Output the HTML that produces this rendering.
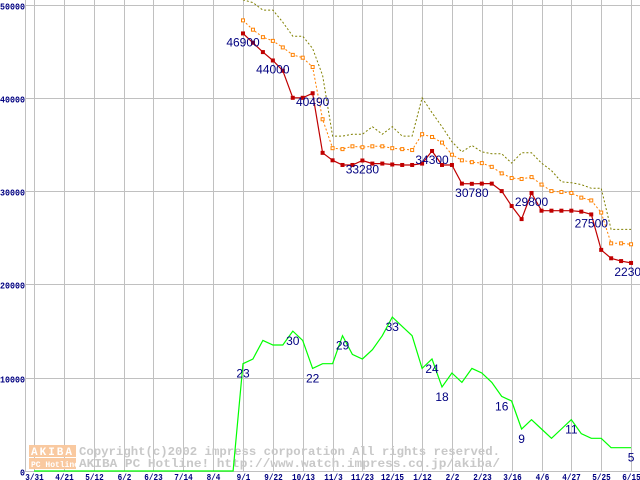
<!DOCTYPE html>
<html><head><meta charset="utf-8">
<style>
html,body{margin:0;padding:0;background:#fff;}
svg{display:block;}
text{font-family:"Liberation Mono","DejaVu Sans Mono",monospace;}
.lbl{font-family:"Liberation Sans",sans-serif;font-size:12px;fill:#000080;}
.ax{font-size:9px;font-weight:bold;fill:#000080;}
.wm{font-size:12px;font-weight:bold;fill:#c8c8c8;}
</style></head>
<body>
<svg id="chart" width="640" height="480" viewBox="0 0 640 480" xmlns="http://www.w3.org/2000/svg">
<defs><clipPath id="plot"><rect x="25" y="0" width="615" height="472"/></clipPath></defs>
<g id="grid"></g>
<g id="watermark">
  <rect x="29" y="445" width="47" height="12" fill="#f9c9a0"/>
  <rect x="29" y="458" width="47" height="11" fill="#f9c9a0"/>
  <text x="31" y="455" font-size="11" font-weight="bold" fill="#fff" letter-spacing="2">AKIBA</text>
  <text x="31" y="467" font-size="8" font-weight="bold" fill="#fff">PC Hotline!</text>
  <text class="wm" x="79" y="455" textLength="421" lengthAdjust="spacingAndGlyphs">Copyright(c)2002 impress corporation All rights reserved.</text>
  <text class="wm" x="79" y="467" textLength="421" lengthAdjust="spacingAndGlyphs">AKIBA PC Hotline!  http://www.watch.impress.co.jp/akiba/</text>
</g>
<g id="series" clip-path="url(#plot)"></g>
<g id="labels"></g>
<g id="axes"></g>
</svg>
<script>
const yTicks = [0,10000,20000,30000,40000,50000];
const xTickLabels = ["3/31","4/21","5/12","6/2","6/23","7/14","8/4","9/1","9/22","10/13","11/3","11/23","12/15","1/12","2/2","2/23","3/16","4/6","4/27","5/25","6/15"];
const xTickWeeks = [-21,-18,-15,-12,-9,-6,-3,0,3,6,9,12,15,18,21,24,27,30,33,36,39];
const redValues = [46900,45900,44900,44000,42900,40000,40000,40490,34100,33300,32800,32800,33280,32950,32950,32850,32800,32800,32950,34300,32800,32800,30800,30780,30800,30800,30000,28400,27000,29800,27900,27900,27900,27900,27800,27500,23700,22800,22500,22300];
const redLabelIdx = [0,3,7,12,19,23,29,35,39];
const orangeValues = [48300,47300,46500,46100,45400,44600,44300,43300,37700,34600,34500,34800,34700,34800,34800,34600,34500,34400,36100,35800,35200,33900,33300,33100,33000,32600,31900,31400,31300,31500,30700,30000,29900,29800,29300,29000,27700,24400,24400,24300];
const oliveValues = [50500,50200,49400,49400,48100,46600,46600,45300,42400,35900,35900,36100,36100,36900,36100,36900,35900,35900,40000,38400,36900,35300,34200,34900,34200,34000,34000,33000,34100,34100,33000,32200,31000,30900,30700,30300,30300,25900,25900,25900];
const greenZeroWeeks = 21;
const greenCounts = [23,24,28,27,27,30,28,22,23,23,29,25,24,26,29,33,31,29,22,24,18,21,19,22,21,19,16,15,9,11,9,7,9,11,8,7,7,5,5,5];
const greenLabelIdx = [0,5,7,10,15,19,20,26,28,33,39];

const NS = "http://www.w3.org/2000/svg";
const X0 = 243, WEEK = 9.95, Y0 = 471, PER = 466.5/50000, COUNT_SCALE = 500;
function xs(i){ return X0 + i*WEEK; }
function ys(v){ return Y0 - v*PER; }
function mk(tag, attrs, parent){
  const e = document.createElementNS(NS, tag);
  for (const k in attrs) e.setAttribute(k, attrs[k]);
  parent.appendChild(e); return e;
}
const grid = document.getElementById('grid');
const axes = document.getElementById('axes');
const series = document.getElementById('series');
const labels = document.getElementById('labels');

yTicks.forEach(v=>{
  const y = Math.round(ys(v))+0.5;
  const l = mk('line',{x1:25,x2:640,y1:y,y2:y,stroke:'#c0c0c0','stroke-width':1},grid);
  
  
  const s = String(v);
  const w = s.length*5;
  const t = mk('text',{x:25-w,y:Math.max(y+4,8),class:'ax',textLength:w,lengthAdjust:'spacingAndGlyphs'},axes);
  t.textContent = s;
  
  
});
const yl = mk('line',{x1:25.5,x2:25.5,y1:0,y2:472,stroke:'#c0c0c0'},grid);


xTickWeeks.forEach((w,k)=>{
  const x = Math.round(xs(w))+0.5;
  const l = mk('line',{x1:x,x2:x,y1:0,y2:472,stroke:'#c0c0c0'},grid);
  
  
  const s = xTickLabels[k];
  const tw = s.length*4.6;
  const t = mk('text',{x:x-tw/2,y:480,class:'ax',textLength:tw,lengthAdjust:'spacingAndGlyphs'},axes);
  t.textContent = s;
  
  
});

function line(vals, offset, style, name){
  const pts = vals.map((v,i)=>xs(i+offset).toFixed(1)+','+ys(v).toFixed(1)).join(' ');
  const p = mk('polyline',Object.assign({points:pts,fill:'none'},style),series);
  
  
}
line(oliveValues,0,{stroke:'#808000','stroke-width':1,'stroke-dasharray':'2,2'},'max-price-line');
line(orangeValues,0,{stroke:'#ff8000','stroke-width':1,'stroke-dasharray':'2,2'},'avg-price-line');
orangeValues.forEach((v,i)=>{
  const r = mk('rect',{x:xs(i)-1.5,y:ys(v)-1.5,width:3,height:3,fill:'#fff',stroke:'#ff8000','stroke-width':1},series);
  
  
});
line(redValues,0,{stroke:'#c00000','stroke-width':1.2},'min-price-line');
redValues.forEach((v,i)=>{
  const r = mk('rect',{x:xs(i)-2,y:ys(v)-2,width:4,height:4,fill:'#c00000'},series);
  
  
});
const greenAll = new Array(greenZeroWeeks).fill(0).concat(greenCounts);
line(greenAll.map(c=>c*COUNT_SCALE),-greenZeroWeeks,{stroke:'#00ff00','stroke-width':1.2},'shop-count-line');

redLabelIdx.forEach(i=>{
  const t = mk('text',{x:xs(i),y:ys(redValues[i])+13,'text-anchor':'middle',class:'lbl'},labels);
  t.textContent = redValues[i];
  
  
});
greenLabelIdx.forEach(i=>{
  const t = mk('text',{x:xs(i),y:ys(greenCounts[i]*COUNT_SCALE)+14,'text-anchor':'middle',class:'lbl'},labels);
  t.textContent = greenCounts[i];
  
  
});
</script>
</body></html>
